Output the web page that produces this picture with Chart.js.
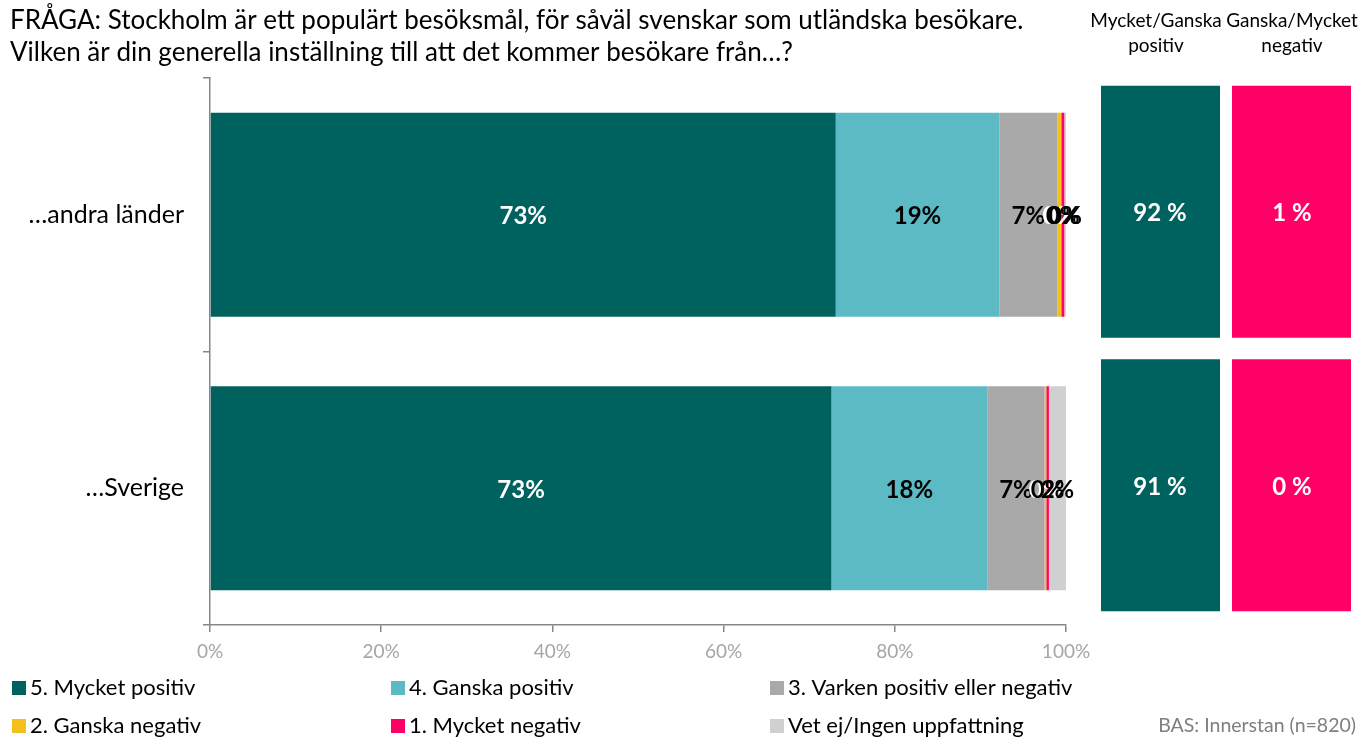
<!DOCTYPE html>
<html>
<head>
<meta charset="utf-8">
<script src="https://cdn.jsdelivr.net/npm/chart.js@4.4.0/dist/chart.umd.min.js"></script>
<style>
  html, body { margin: 0; padding: 0; background: #fff; }
  #wrap { width: 1369px; height: 738px; position: relative; }
</style>
</head>
<body>
<div id="wrap"><canvas id="myChart" width="1369" height="738"></canvas></div>
<script>
const kategorier = ['…andra länder', '…Sverige']
const serier = ['5. Mycket positiv', '4. Ganska positiv', '3. Varken positiv eller negativ', '2. Ganska negativ', '1. Mycket negativ', 'Vet ej/Ingen uppfattning']
const mycketPositiv = [73.1, 72.6]
const ganskaPositiv = [19.1, 18.2]
const varken = [6.8, 6.7]
const ganskaNegativ = [0.45, 0.2]
const mycketNegativ = [0.35, 0.3]
const vetEj = [0.2, 2.0]
const andelPositiv = [92, 91]
const andelNegativ = [1, 0]
const xTicks = [0, 20, 40, 60, 80, 100]

const farger = ['#00625e', '#5cbac5', '#a9a9a9', '#f4c01e', '#ff0066', '#d0d0d0']
const etikettFarg = ['#ffffff', '#000000', '#000000', '#ffffff', '#000000', '#000000']
const FONT = 'Lato, "Open Sans", sans-serif'

const ctx = document.getElementById('myChart')

// procentetiketter mitt i varje segment
const etiketter = {
    id: 'etiketter',
    afterDatasetsDraw(chart) {
        const c = chart.ctx
        c.save()
        c.font = 'bold 24px ' + FONT
        c.textAlign = 'center'
        c.textBaseline = 'middle'
        chart.data.datasets.forEach((ds, i) => {
            chart.getDatasetMeta(i).data.forEach((bar, j) => {
                const p = bar.getProps(['x', 'y', 'base'], true)
                c.fillStyle = etikettFarg[i]
                c.fillText(Math.round(ds.data[j]) + '%', (p.x + p.base) / 2, p.y + 2)
            })
        })
        c.restore()
    }
}

// rubrik, rutor till höger, legend och bas
const extra = {
    id: 'extra',
    afterDraw(chart) {
        const c = chart.ctx
        const y = chart.scales.y
        c.save()
        c.fillStyle = '#000'
        c.textBaseline = 'middle'
        c.font = '26px ' + FONT
        c.textAlign = 'left'
        c.fillText('FRÅGA: Stockholm är ett populärt besöksmål, för såväl svenskar som utländska besökare.', 10, 21)
        c.fillText('Vilken är din generella inställning till att det kommer besökare från…?', 10, 53)

        c.font = '19px ' + FONT
        c.textAlign = 'center'
        c.fillText('Mycket/Ganska', 1156, 21)
        c.fillText('positiv', 1156, 46)
        c.fillText('Ganska/Mycket', 1292, 21)
        c.fillText('negativ', 1292, 46)

        c.font = 'bold 24px ' + FONT
        kategorier.forEach((k, j) => {
            const cy = y.getPixelForValue(j) - 3
            c.fillStyle = farger[0]
            c.fillRect(1101, cy - 126, 119, 252)
            c.fillStyle = farger[4]
            c.fillRect(1232, cy - 126, 119, 252)
            c.fillStyle = '#fff'
            c.fillText(andelPositiv[j] + ' %', 1160, cy + 2)
            c.fillText(andelNegativ[j] + ' %', 1292, cy + 2)
        })

        const kol = [12, 391, 770]
        const rad = [688, 726]
        c.font = '22px ' + FONT
        c.textAlign = 'left'
        serier.forEach((s, i) => {
            const x = kol[i % 3]
            const yy = rad[Math.floor(i / 3)]
            c.fillStyle = farger[i]
            c.fillRect(x, yy - 7, 14, 14)
            c.fillStyle = '#000'
            c.fillText(s, x + 18, yy)
        })

        c.fillStyle = '#7f7f7f'
        c.font = '19.5px ' + FONT
        c.textAlign = 'right'
        c.fillText('BAS: Innerstan (n=820)', 1356, 726)
        c.restore()
    }
}

const myChart = new Chart(ctx, {
    type: 'bar',
    data: {
        labels: kategorier,
        datasets: [
            { label: serier[0], data: mycketPositiv, backgroundColor: farger[0] },
            { label: serier[1], data: ganskaPositiv, backgroundColor: farger[1] },
            { label: serier[2], data: varken, backgroundColor: farger[2] },
            { label: serier[3], data: ganskaNegativ, backgroundColor: farger[3] },
            { label: serier[4], data: mycketNegativ, backgroundColor: farger[4] },
            { label: serier[5], data: vetEj, backgroundColor: farger[5] }
        ]
    },
    options: {
        indexAxis: 'y',
        responsive: false,
        animation: false,
        categoryPercentage: 1,
        barPercentage: 0.746,
        layout: { padding: { top: 78, right: 303, bottom: 0, left: 0 } },
        plugins: { legend: { display: false }, tooltip: { enabled: false }, title: { display: false } },
        scales: {
            x: {
                stacked: true,
                min: 0,
                max: 100,
                afterBuildTicks(scale) { scale.ticks = xTicks.map(v => ({ value: v })) },
                afterFit(scale) { scale.height = 113 },
                grid: { drawOnChartArea: false, tickLength: 7, color: '#868686', lineWidth: 1.5 },
                border: { color: '#868686', width: 1.5 },
                ticks: { padding: 8, color: '#a6a6a6', font: { family: FONT, size: 19 }, callback: v => v + '%' }
            },
            y: {
                stacked: true,
                afterFit(scale) { scale.width = 210 },
                grid: { drawOnChartArea: false, tickLength: 7, color: '#868686', lineWidth: 1.5 },
                border: { color: '#868686', width: 1.5 },
                ticks: { padding: 19, color: '#000', font: { family: FONT, size: 25 } }
            }
        }
    },
    plugins: [etiketter, extra]
})
</script>
</body>
</html>
